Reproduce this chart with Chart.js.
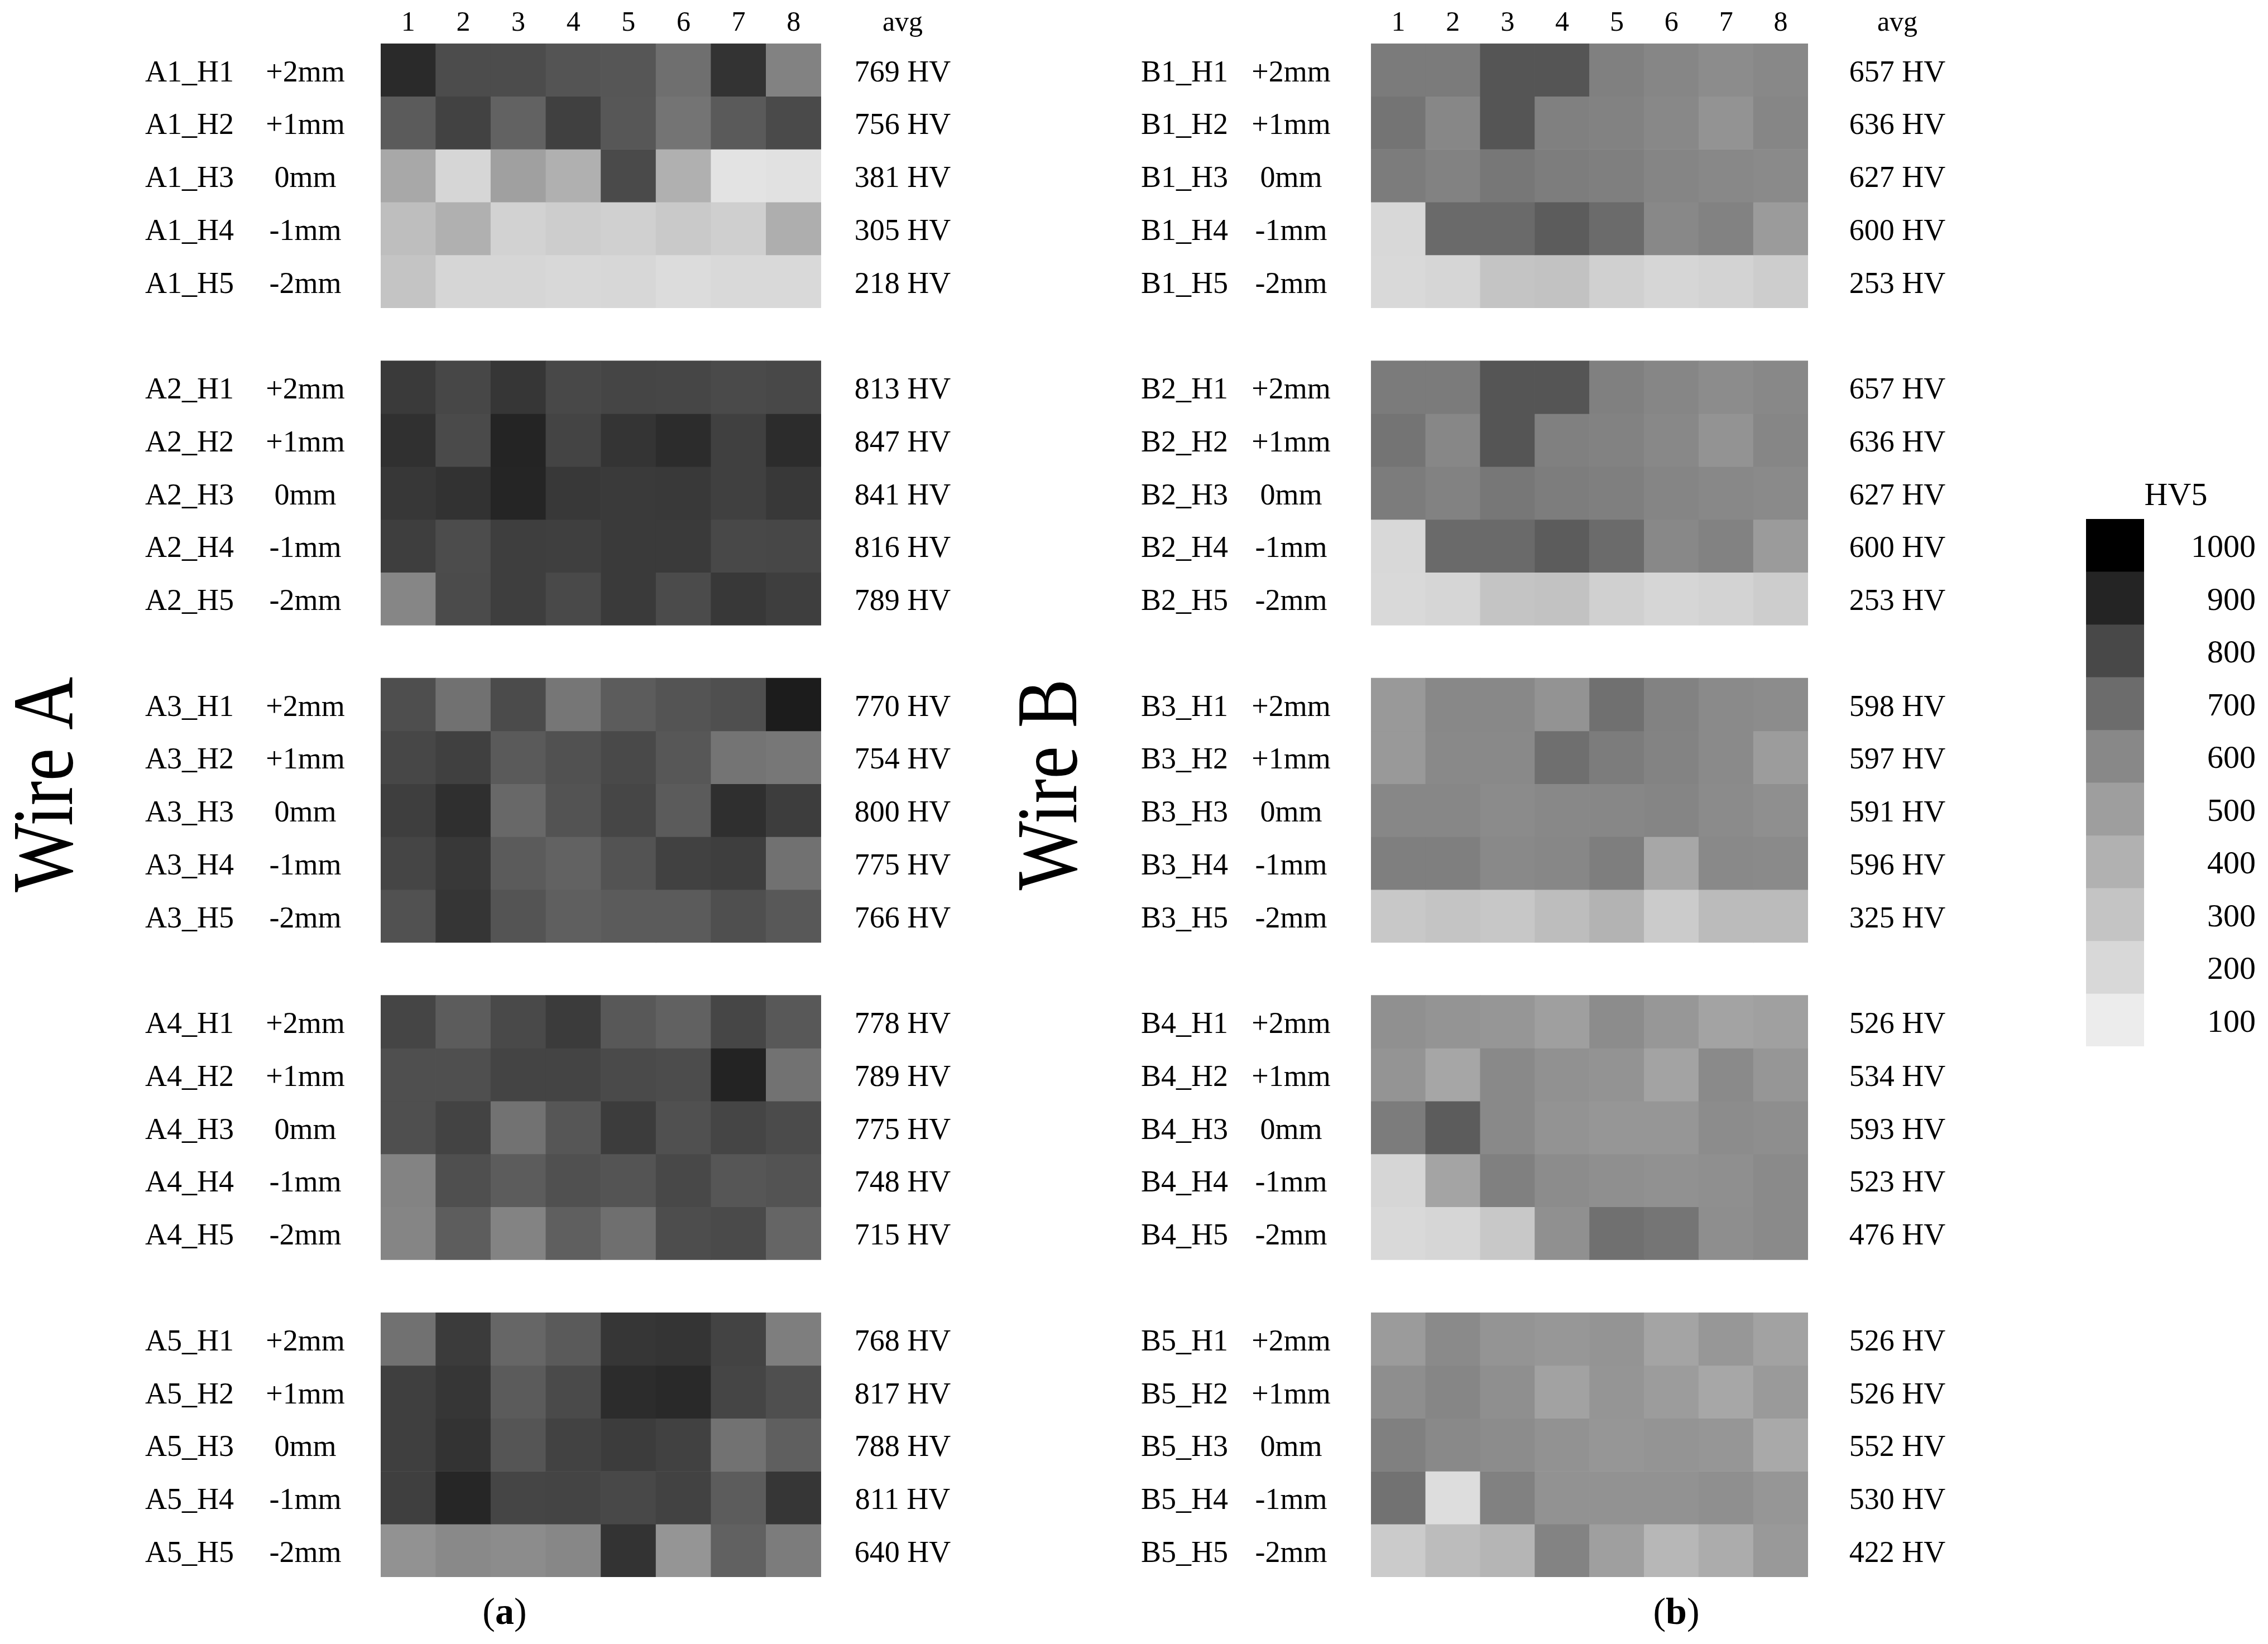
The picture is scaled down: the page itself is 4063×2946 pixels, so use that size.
<!DOCTYPE html>
<html>
<head>
<meta charset="utf-8">
<script src="https://cdn.jsdelivr.net/npm/chart.js@4.4.1/dist/chart.umd.min.js"></script>
<style>
  body { margin: 0; background: #fff; }
  .box { position: absolute; top: 0; }
</style>
</head>
<body>
<div class="box" style="left:0"><canvas id="chartA"></canvas></div>
<div class="box" style="left:1687px"><canvas id="chartB"></canvas></div>
<div class="box" style="left:3580px"><canvas id="chartBar"></canvas></div>
<script>
// measuring columns
var columns = ['1', '2', '3', '4', '5', '6', '7', '8'];
var heights = ['H1', 'H2', 'H3', 'H4', 'H5'];
var positions = ['+2mm', '+1mm', '0mm', '-1mm', '-2mm'];

// hardness HV5, rows A1_H1 .. A5_H5
var wireA = [
  [883, 789, 789, 766, 761, 689, 858, 621],
  [747, 817, 728, 822, 758, 671, 750, 794],
  [447, 210, 489, 405, 794, 405, 145, 155],
  [332, 405, 230, 255, 240, 275, 245, 416],
  [300, 210, 210, 200, 205, 180, 195, 195],

  [839, 803, 850, 800, 808, 805, 794, 800],
  [867, 794, 900, 811, 855, 878, 822, 878],
  [847, 861, 897, 844, 839, 842, 822, 844],
  [828, 789, 828, 825, 839, 839, 800, 803],
  [607, 792, 828, 797, 839, 792, 844, 828],

  [783, 682, 792, 664, 744, 766, 780, 922],
  [803, 822, 750, 775, 797, 758, 671, 661],
  [828, 869, 711, 769, 805, 747, 869, 830],
  [808, 844, 747, 728, 769, 819, 828, 682],
  [775, 853, 766, 736, 747, 747, 780, 755],

  [808, 744, 797, 836, 755, 730, 805, 755],
  [780, 780, 811, 811, 794, 789, 903, 679],
  [780, 814, 679, 761, 833, 778, 808, 792],
  [618, 780, 744, 778, 766, 800, 761, 769],
  [611, 741, 618, 736, 689, 786, 794, 719],

  [682, 836, 716, 750, 850, 855, 814, 636],
  [825, 850, 747, 794, 878, 886, 808, 780],
  [825, 858, 764, 817, 833, 819, 679, 736],
  [825, 894, 808, 811, 800, 817, 744, 850],
  [555, 595, 582, 604, 858, 541, 730, 643]
];
var wireB = [
  [646, 646, 764, 764, 629, 607, 582, 600],
  [671, 604, 764, 629, 621, 600, 550, 607],
  [643, 621, 661, 639, 632, 611, 600, 591],
  [200, 705, 705, 744, 703, 600, 621, 514],
  [195, 210, 300, 310, 240, 210, 225, 255],

  [646, 646, 764, 764, 629, 607, 582, 600],
  [671, 604, 764, 629, 621, 600, 550, 607],
  [643, 621, 661, 639, 632, 611, 600, 591],
  [200, 705, 705, 744, 703, 600, 621, 514],
  [195, 210, 300, 310, 240, 210, 225, 255],

  [523, 600, 600, 550, 686, 621, 591, 582],
  [523, 595, 595, 689, 643, 618, 591, 509],
  [604, 604, 586, 600, 604, 611, 586, 568],
  [632, 632, 595, 604, 636, 453, 595, 591],
  [280, 300, 285, 337, 390, 265, 347, 347],

  [564, 545, 536, 495, 582, 532, 474, 489],
  [545, 458, 595, 559, 550, 474, 591, 536],
  [643, 744, 595, 550, 536, 536, 582, 573],
  [210, 468, 629, 582, 568, 559, 568, 591],
  [195, 210, 280, 564, 686, 668, 573, 591],

  [514, 591, 545, 532, 545, 468, 532, 479],
  [573, 607, 568, 479, 541, 509, 453, 518],
  [629, 595, 582, 555, 536, 545, 536, 442],
  [679, 175, 625, 555, 555, 555, 568, 536],
  [265, 342, 379, 618, 495, 368, 426, 523]
];
var avgA = [769, 756, 381, 305, 218, 813, 847, 841, 816, 789, 770, 754, 800, 775, 766,
            778, 789, 775, 748, 715, 768, 817, 788, 811, 640];
var avgB = [657, 636, 627, 600, 253, 657, 636, 627, 600, 253, 598, 597, 591, 596, 325,
            526, 534, 593, 523, 476, 526, 526, 552, 530, 422];

// colour scale
var barTicks = [1000, 900, 800, 700, 600, 500, 400, 300, 200, 100];
var barGrays = [0, 36, 72, 108, 136, 158, 177, 196, 216, 236];

function grayOf(v) {
  if (v >= barTicks[0]) return barGrays[0];
  for (var i = 0; i < barTicks.length - 1; i++) {
    if (v <= barTicks[i] && v >= barTicks[i + 1]) {
      var t = (barTicks[i] - v) / (barTicks[i] - barTicks[i + 1]);
      return Math.round(barGrays[i] + t * (barGrays[i + 1] - barGrays[i]));
    }
  }
  return barGrays[barGrays.length - 1];
}
function colorOf(v) {
  var g = grayOf(v);
  return 'rgb(' + g + ',' + g + ',' + g + ')';
}
function rowY(i) { return Math.floor(i / 5) * 6 + (i % 5); }

var SERIF = '"Liberation Serif", "DejaVu Serif", serif';

function labelPlugin(letter, avgs, o) {
  return {
    id: 'labels' + letter,
    afterDraw: function(chart) {
      var ctx = chart.ctx, x = chart.scales.x, y = chart.scales.y;
      ctx.save();
      ctx.fillStyle = '#000';
      ctx.textBaseline = 'middle';
      ctx.font = '50px ' + SERIF;
      ctx.textAlign = 'center';
      columns.forEach(function(c, i) {
        ctx.fillText(c, x.getPixelForValue(i), 42);
      });
      ctx.fillText('avg', o.avgX, 42);
      ctx.font = '54px ' + SERIF;
      for (var i = 0; i < 25; i++) {
        var py = y.getPixelForValue(rowY(i)) + 6;
        ctx.textAlign = 'left';
        ctx.fillText(letter + (Math.floor(i / 5) + 1) + '_' + heights[i % 5], o.nameX, py);
        ctx.textAlign = 'center';
        ctx.fillText(positions[i % 5], o.posX, py);
        ctx.fillText(avgs[i] + ' HV', o.avgX, py);
      }
      // side title
      ctx.save();
      ctx.translate(o.wireX, 1406);
      ctx.rotate(-Math.PI / 2);
      ctx.scale(0.85, 1);
      ctx.font = '155px ' + SERIF;
      ctx.textAlign = 'center';
      ctx.fillText('Wire ' + letter, 0, 0);
      ctx.restore();
      // panel letter
      ctx.font = '68px ' + SERIF;
      var w1 = ctx.measureText('(').width;
      ctx.font = 'bold 68px ' + SERIF;
      var wl = ctx.measureText(letter.toLowerCase()).width;
      var total = 2 * w1 + wl, sx = o.tagX - total / 2;
      ctx.textAlign = 'left';
      ctx.font = '68px ' + SERIF;
      ctx.fillText('(', sx, 2892);
      ctx.font = 'bold 68px ' + SERIF;
      ctx.fillText(letter.toLowerCase(), sx + w1, 2892);
      ctx.font = '68px ' + SERIF;
      ctx.fillText(')', sx + w1 + wl, 2892);
      ctx.restore();
    }
  };
}

function makePanel(id, letter, values, avgs, width, left, right, o) {
  var canvas = document.getElementById(id);
  canvas.style.width = width + 'px';
  canvas.style.height = '2946px';
  canvas.width = width;
  canvas.height = 2946;
  var datasets = values.map(function(row, i) {
    var yv = rowY(i);
    return {
      data: row.map(function() { return [yv - 0.5, yv + 0.5]; }),
      backgroundColor: row.map(colorOf),
      borderWidth: 0,
      borderSkipped: false,
      barPercentage: 1.0,
      categoryPercentage: 1.0,
      grouped: false
    };
  });
  return new Chart(canvas, {
    type: 'bar',
    data: { labels: columns, datasets: datasets },
    options: {
      responsive: false,
      animation: false,
      devicePixelRatio: 1,
      layout: { padding: { left: left, right: right, top: 78, bottom: 120 } },
      plugins: { legend: { display: false }, tooltip: { enabled: false } },
      scales: {
        x: { display: false, offset: true },
        y: { display: false, min: -0.5, max: 28.5, reverse: true }
      }
    },
    plugins: [labelPlugin(letter, avgs, o)]
  });
}

makePanel('chartA', 'A', wireA, avgA, 1760, 682, 1760 - 1471,
  { nameX: 260, posX: 547, avgX: 1617, wireX: 88, tagX: 904 });
var B0 = 1700;
makePanel('chartB', 'B', wireB, avgB, 1900, 2469 - B0, 1900 - (3252 - B0),
  { nameX: 2057 - B0, posX: 2326 - B0, avgX: 3412 - B0, wireX: 1900 - B0, tagX: 3016 - B0 });

// colour bar
(function() {
  var canvas = document.getElementById('chartBar');
  canvas.style.width = '483px';
  canvas.style.height = '2000px';
  canvas.width = 483;
  canvas.height = 2000;
  new Chart(canvas, {
    type: 'bar',
    data: {
      labels: ['HV5'],
      datasets: barTicks.map(function(t) {
        return {
          data: [[t - 50, t + 50]],
          backgroundColor: colorOf(t),
          borderWidth: 0,
          borderSkipped: false,
          barPercentage: 1.0,
          categoryPercentage: 1.0,
          grouped: false
        };
      })
    },
    options: {
      responsive: false,
      animation: false,
      devicePixelRatio: 1,
      layout: { padding: { left: 157, right: 483 - 261, top: 930, bottom: 2000 - 1875 } },
      plugins: { legend: { display: false }, tooltip: { enabled: false } },
      scales: {
        x: { display: false, offset: true },
        y: { display: false, min: 50, max: 1050 }
      }
    },
    plugins: [{
      id: 'barLabels',
      afterDraw: function(chart) {
        var ctx = chart.ctx, y = chart.scales.y;
        ctx.save();
        ctx.fillStyle = '#000';
        ctx.font = '58px ' + SERIF;
        ctx.textBaseline = 'middle';
        ctx.textAlign = 'right';
        barTicks.forEach(function(t) {
          ctx.fillText(String(t), 461, y.getPixelForValue(t) + 6);
        });
        ctx.textAlign = 'center';
        ctx.fillText('HV5', 318, 890);
        ctx.restore();
      }
    }]
  });
})();
</script>
</body>
</html>
